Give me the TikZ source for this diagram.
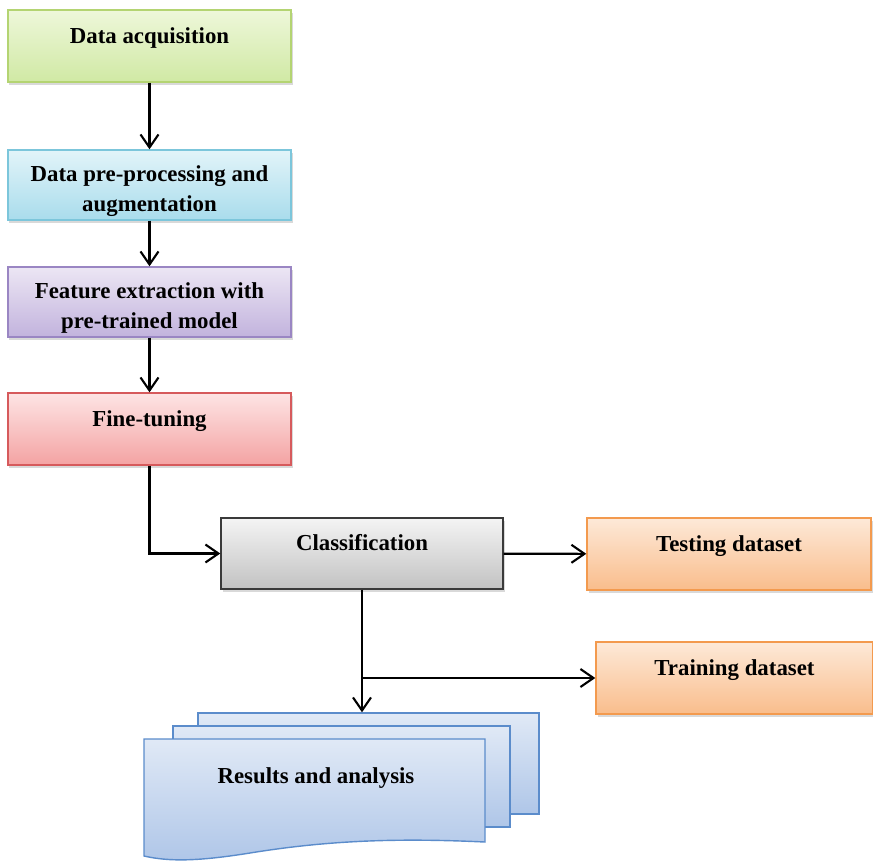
\documentclass[tikz,border=0pt]{standalone}
\usepackage{fontspec}
\setmainfont{Liberation Serif}
\usetikzlibrary{arrows.meta, positioning, shadows}
\definecolor{acqtop}{HTML}{EEF7DA}
\definecolor{acqbot}{HTML}{D0E9A4}
\definecolor{acqline}{HTML}{B4D472}
\definecolor{pretop}{HTML}{E2F4F9}
\definecolor{prebot}{HTML}{A9DCEC}
\definecolor{preline}{HTML}{7CC6DB}
\definecolor{feattop}{HTML}{ECE6F4}
\definecolor{featbot}{HTML}{C2B3DD}
\definecolor{featline}{HTML}{9A86C3}
\definecolor{finetop}{HTML}{FDE4E4}
\definecolor{finebot}{HTML}{F4A3A3}
\definecolor{fineline}{HTML}{D65A5C}
\definecolor{clstop}{HTML}{F4F4F4}
\definecolor{clsbot}{HTML}{C2C2C2}
\definecolor{clsline}{HTML}{3A3A3A}
\definecolor{settop}{HTML}{FDE9D8}
\definecolor{setbot}{HTML}{F9BD8C}
\definecolor{setline}{HTML}{F39A4E}
\definecolor{restop}{HTML}{E0E9F6}
\definecolor{resbot}{HTML}{AFC6E8}
\definecolor{resline}{HTML}{5B8CCB}
% pushes the first of two lines down a little
\newcommand\lift{\rule{0pt}{5.6mm}}

\tikzset{
  box/.style={draw, line width=0.8pt, minimum width=56.6mm, minimum height=14.4mm,
    inner sep=0pt, align=center, font=\bfseries\fontsize{13}{17}\selectfont,
    drop shadow={shadow xshift=0.3mm, shadow yshift=-0.6mm, opacity=0.3}},
  oneline/.style={text height=3.5mm, text depth=4.7mm},
  twoline/.style={minimum height=14mm},
  page/.style={draw=resline, line width=0.8pt, top color=restop, bottom color=resbot},
  flow/.style={-{Straight Barb[length=2.6mm, width=3.6mm]}, line width=1.2pt},
}

\begin{document}
\begin{tikzpicture}[x=0.2mm, y=-0.2mm]
  \useasboundingbox (0,0) rectangle (873,864);

  % main pipeline
  \node[box, oneline, draw=acqline, top color=acqtop, bottom color=acqbot] (acq) at (149.5,46) {Data acquisition};
  \node[box, twoline, draw=preline, top color=pretop, bottom color=prebot] (prep) at (149.5,185) {\lift Data pre-processing and\\augmentation};
  \node[box, twoline, draw=featline, top color=feattop, bottom color=featbot] (feat) at (149.5,302) {\lift Feature extraction with\\pre-trained model};
  \node[box, oneline, draw=fineline, top color=finetop, bottom color=finebot] (fine) at (149.5,429) {Fine-tuning};
  \node[box, oneline, minimum width=56.4mm, minimum height=14.2mm, draw=clsline, top color=clstop, bottom color=clsbot] (cls) at (362,553.5) {Classification};
  \node[box, oneline, minimum width=56.8mm, draw=setline, top color=settop, bottom color=setbot] (test) at (729,554) {Testing dataset};
  \node[box, oneline, minimum width=55.4mm, draw=setline, top color=settop, bottom color=setbot] (train) at (734.5,678) {Training dataset};

  % stacked result pages
  \node[page, minimum width=68.2mm, minimum height=20.2mm, inner sep=0pt] (pageback) at (368.5,763.5) {};
  \node[page, minimum width=67.4mm, minimum height=20.2mm, inner sep=0pt] (pagemid) at (341.5,776.5) {};
  \draw[page] (144,739) -- (485,739) -- (485,842)
    .. controls (400,838) and (330,840) .. (250,853)
    .. controls (200,861) and (170,862) .. (144,856) -- cycle;
  \node[font=\bfseries\fontsize{13}{17}\selectfont] (results) at (316,778) {Results and analysis};

  \draw[flow] (acq) -- (prep);
  \draw[flow] (prep) -- (feat);
  \draw[flow] (feat) -- (fine);
  \draw[flow] (fine.south) |- (cls.west);
  \draw[flow] (cls) -- (test);
  \draw[flow] (cls.south) -- (cls.south |- pageback.north);
  \draw[flow] (cls.south |- train.west) -- (train.west);
\end{tikzpicture}
\end{document}
